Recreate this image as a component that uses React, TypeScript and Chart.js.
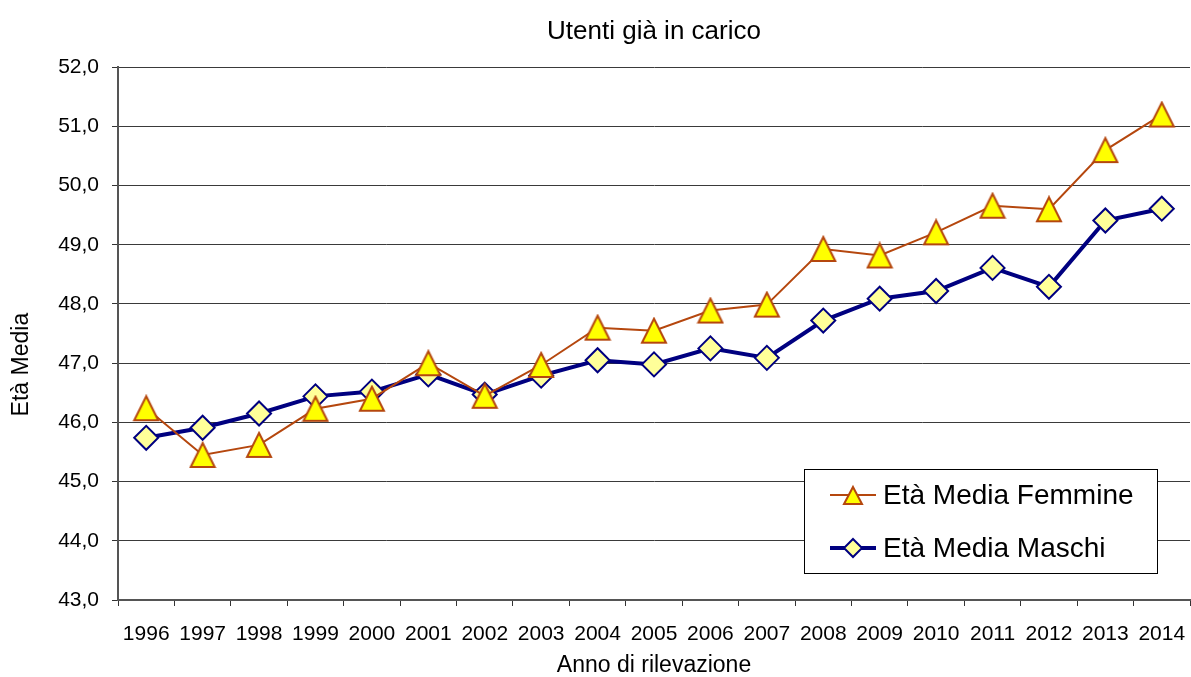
import React, { useEffect, useRef } from "react";
import { Chart, registerables } from "chart.js";

Chart.register(...registerables);

const years = ["1996", "1997", "1998", "1999", "2000", "2001", "2002", "2003", "2004", "2005", "2006", "2007", "2008", "2009", "2010", "2011", "2012", "2013", "2014"];
const femmine = [46.24, 45.45, 45.62, 46.23, 46.4, 47.0, 46.45, 46.97, 47.6, 47.55, 47.89, 47.99, 48.93, 48.82, 49.21, 49.66, 49.6, 50.6, 51.2];
const maschi = [45.74, 45.91, 46.15, 46.44, 46.52, 46.81, 46.47, 46.79, 47.05, 46.98, 47.25, 47.09, 47.72, 48.09, 48.22, 48.61, 48.29, 49.41, 49.61];
const seriesLabels = ["Età Media Femmine", "Età Media Maschi"];
const chartTitle = "Utenti già in carico";
const xTitle = "Anno di rilevazione";
const yTitle = "Età Media";

const FONT = "'Liberation Sans', Arial, sans-serif";
const BROWN = "#B5470E";
const NAVY = "#000080";

function makeTriangle(w: number, h: number, lw: number) {
  const c = document.createElement("canvas");
  c.width = w + lw * 2;
  c.height = h + lw * 2;
  const ctx = c.getContext("2d")!;
  ctx.beginPath();
  ctx.moveTo(c.width / 2, lw);
  ctx.lineTo(c.width - lw, c.height - lw);
  ctx.lineTo(lw, c.height - lw);
  ctx.closePath();
  ctx.fillStyle = "#FFFF00";
  ctx.fill();
  ctx.lineWidth = lw;
  ctx.strokeStyle = BROWN;
  ctx.lineJoin = "miter";
  ctx.stroke();
  return c;
}

// Y-axis title drawn along the axis, slightly below the plot centre as in the original
const yTitlePlugin = {
  id: "yTitleOffset",
  afterDraw(chart: any) {
    const ctx = chart.ctx;
    const ca = chart.chartArea;
    const cy = (ca.top + ca.bottom) / 2 + 31;
    ctx.save();
    ctx.translate(22, cy);
    ctx.rotate(-Math.PI / 2);
    ctx.fillStyle = "#000";
    ctx.font = `23px ${FONT}`;
    ctx.textAlign = "center";
    ctx.textBaseline = "middle";
    ctx.fillText(yTitle, 0, 0);
    ctx.restore();
  },
};

const legendPlugin = {
  id: "boxLegend",
  afterDraw(chart: any) {
    const ctx = chart.ctx;
    const ca = chart.chartArea;
    const bx = ca.right - 386;
    const by = ca.bottom - 131;
    const bw = 353;
    const bh = 104;
    ctx.save();
    ctx.fillStyle = "#FFFFFF";
    ctx.fillRect(bx, by, bw, bh);
    ctx.strokeStyle = "#000000";
    ctx.lineWidth = 1;
    ctx.strokeRect(Math.round(bx) + 0.5, Math.round(by) + 0.5, bw, bh);
    const rows = [by + 26, by + 79];
    chart.data.datasets.forEach((ds: any, i: number) => {
      const y = rows[i];
      const x0 = bx + 26;
      const x1 = bx + 72;
      const xm = (x0 + x1) / 2;
      ctx.beginPath();
      ctx.moveTo(x0, y);
      ctx.lineTo(x1, y);
      ctx.strokeStyle = ds.borderColor;
      ctx.lineWidth = ds.borderWidth;
      ctx.stroke();
      ctx.beginPath();
      if (i === 0) {
        ctx.moveTo(xm, y - 8);
        ctx.lineTo(xm + 9, y + 9);
        ctx.lineTo(xm - 9, y + 9);
      } else {
        ctx.moveTo(xm, y - 9);
        ctx.lineTo(xm + 9, y);
        ctx.lineTo(xm, y + 9);
        ctx.lineTo(xm - 9, y);
      }
      ctx.closePath();
      ctx.fillStyle = i === 0 ? "#FFFF00" : "#FFFF99";
      ctx.fill();
      ctx.lineWidth = 2;
      ctx.strokeStyle = ds.pointBorderColor;
      ctx.stroke();
      ctx.fillStyle = "#000000";
      ctx.font = `28px ${FONT}`;
      ctx.textBaseline = "middle";
      ctx.textAlign = "left";
      ctx.fillText(ds.label, bx + 79, y + 1);
    });
    ctx.restore();
  },
};

export default function App() {
  const ref = useRef<HTMLCanvasElement | null>(null);
  useEffect(() => {
    if (!ref.current) return;
    const tri = makeTriangle(24, 24, 2);
    const chart = new Chart(ref.current, {
      type: "line",
      data: {
        labels: years,
        datasets: [
          {
            label: seriesLabels[0],
            data: femmine,
            borderColor: BROWN,
            borderWidth: 2,
            pointStyle: tri as any,
            pointBorderColor: BROWN,
            pointBackgroundColor: "#FFFF00",
            tension: 0,
          },
          {
            label: seriesLabels[1],
            data: maschi,
            borderColor: NAVY,
            borderWidth: 4,
            pointStyle: "rectRot",
            pointRadius: 12,
            pointBorderWidth: 2,
            pointBorderColor: NAVY,
            pointBackgroundColor: "#FFFF99",
            tension: 0,
          },
        ],
      },
      options: {
        animation: false,
        responsive: true,
        maintainAspectRatio: false,
        layout: { autoPadding: false, padding: { left: 0, right: 1, top: 0, bottom: 0 } },
        plugins: {
          legend: { display: false },
          tooltip: { enabled: false },
          title: {
            display: true,
            fullSize: false,
            text: chartTitle,
            color: "#000",
            font: { family: FONT, size: 26, weight: "normal" },
            padding: { top: 16, bottom: 20 },
          },
        },
        scales: {
          x: {
            type: "category",
            offset: true,
            grid: {
              offset: true,
              drawOnChartArea: false,
              drawTicks: true,
              tickLength: 6,
              tickColor: "#333",
            },
            border: { display: true, color: "#555", width: 2 },
            ticks: {
              color: "#000",
              font: { family: FONT, size: 21 },
              padding: 16,
              maxRotation: 0,
              autoSkip: false,
            },
            title: {
              display: true,
              text: xTitle,
              color: "#000",
              font: { family: FONT, size: 23, lineHeight: 1.0 },
              padding: { top: 0, bottom: 0 },
            },
            afterFit: (s: any) => {
              s.height = 77;
              s.paddingLeft = 0;
              s.paddingRight = 0;
            },
          },
          y: {
            min: 43,
            max: 52,
            grid: {
              color: "#3a3a3a",
              lineWidth: 1,
              drawTicks: true,
              tickLength: 6,
              tickColor: "#333",
            },
            border: { display: true, color: "#555", width: 2 },
            ticks: {
              stepSize: 1,
              color: "#000",
              font: { family: FONT, size: 21 },
              padding: 13,
              callback: (v: any) => Number(v).toFixed(1).replace(".", ","),
            },
            title: { display: false, text: yTitle },
            afterFit: (s: any) => {
              s.width = 118;
              s.paddingTop = 0;
              s.paddingBottom = 0;
            },
          },
        },
      },
      plugins: [legendPlugin, yTitlePlugin],
    });
    return () => chart.destroy();
  }, []);
  return (
    <div style={{ position: "fixed", left: 0, top: 0, width: 1191, height: 677, background: "#fff" }}>
      <canvas ref={ref} />
    </div>
  );
}
